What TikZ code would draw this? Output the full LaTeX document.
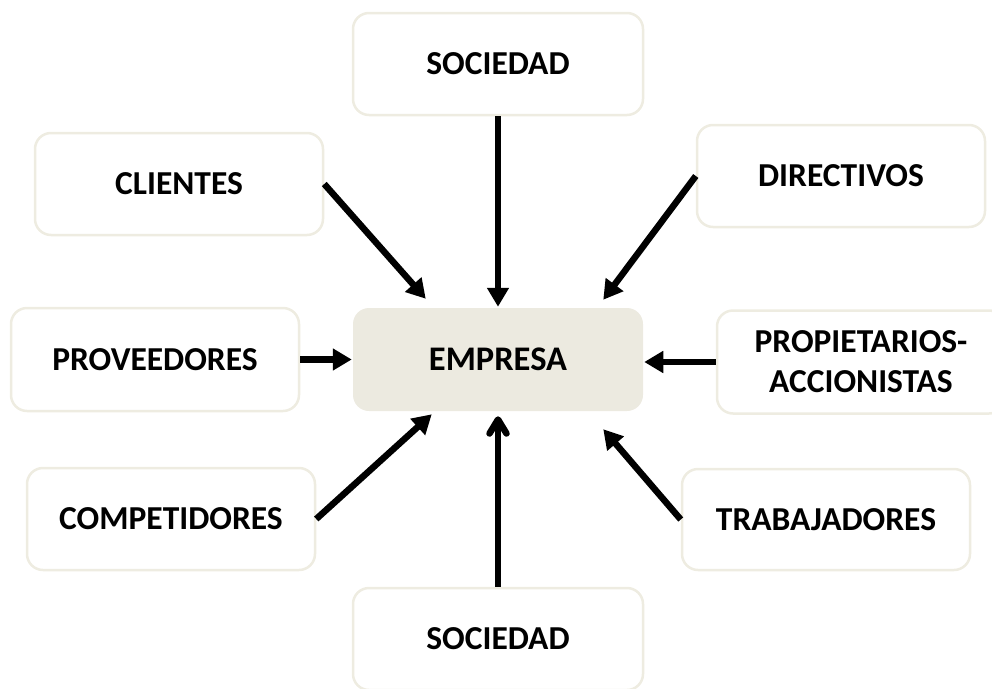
\documentclass[tikz,border=0pt]{standalone}
\usepackage{fontspec}
\setmainfont{Carlito}
\usetikzlibrary{arrows.meta}
\definecolor{boxline}{HTML}{EEECE1}
\definecolor{empfill}{HTML}{ECEAE0}
\tikzset{
  actor/.style={draw=boxline, line width=2.5pt, fill=white, rounded corners=16pt,
    minimum width=288pt, minimum height=102pt, inner sep=0pt, align=center,
    font=\fontsize{33.5}{40}\selectfont\bfseries},
  central/.style={actor, draw=none, fill=empfill, minimum width=290pt, minimum height=103pt,
    font=\fontsize{34.5}{40}\selectfont\bfseries},
  flow/.style={line width=6.5pt, -{Triangle[length=19pt,width=21pt]}},
  barbflow/.style={line width=6.5pt, -{Straight Barb[length=14pt,width=17pt,round]}}
}
\begin{document}
\begin{tikzpicture}[x=1pt,y=-1pt]
\useasboundingbox (0,0) rectangle (992,688);
\clip (0,0) rectangle (992,688);
\node[actor, minimum width=290pt] (soc1) at (498,64) {SOCIEDAD};
\node[actor] (cli) at (179,184) {CLIENTES};
\node[actor] (dir) at (841,176) {DIRECTIVOS};
\node[actor, minimum height=103pt] (prov) at (155,359.5) {PROVEEDORES};
\node[central] (emp) at (498,359.5) {EMPRESA};
\node[actor, minimum height=103pt] (prop) at (861,362) {PROPIETARIOS-\\ACCIONISTAS};
\node[actor] (comp) at (171,519) {COMPETIDORES};
\node[actor, minimum height=101pt] (trab) at (826,519.5) {TRABAJADORES};
\node[actor, minimum width=290pt] (soc2) at (498,639) {SOCIEDAD};

\draw[flow] (soc1.south) -- (emp.north);
\draw[flow] (cli.east) -- ([shift={(74,-8)}]emp.north west);
\draw[flow] (dir.west) -- ([shift={(-41,-7)}]emp.north east);
\draw[flow] (prov.east) -- (emp.west);
\draw[flow] (prop.west) -- (prop.west -| emp.east);
\draw[flow] (comp.east) -- ([shift={(80,2)}]emp.south west);
\draw[barbflow] (soc2.north) -- ([shift={(0,4)}]emp.south);
\draw[flow] (trab.west) -- ([shift={(-41,17)}]emp.south east);
\end{tikzpicture}
\end{document}
